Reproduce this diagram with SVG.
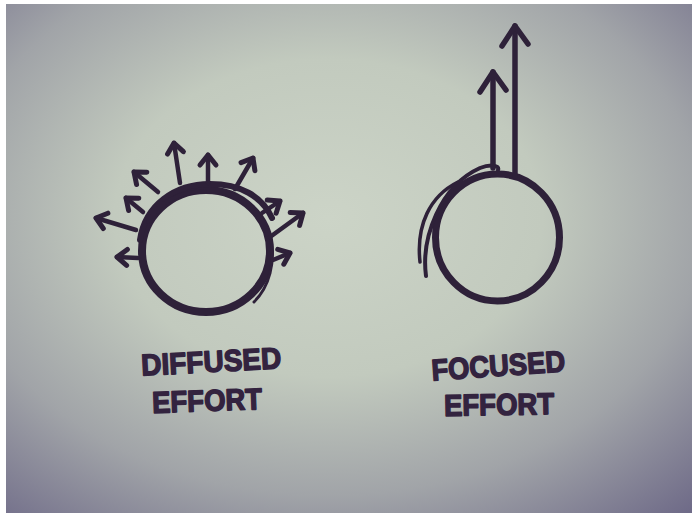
<svg xmlns="http://www.w3.org/2000/svg" width="692" height="516" viewBox="0 0 692 516">
<defs>
<radialGradient id="bg" cx="0.47" cy="0.42" r="0.78">
<stop offset="0" stop-color="#ccd4c7"/>
<stop offset="0.4" stop-color="#c2cabe"/>
<stop offset="0.7" stop-color="#a1a4a8"/>
<stop offset="1" stop-color="#6f6b88"/>
</radialGradient>
<marker id="head" markerUnits="userSpaceOnUse" markerWidth="30" markerHeight="30" refX="0" refY="0" viewBox="-15 -15 30 30" orient="auto" overflow="visible">
<path d="M -10 -8 L 0 0 L -10 8" fill="none" stroke="#2e2139" stroke-width="5" stroke-linecap="round" stroke-linejoin="round"/>
</marker>
<marker id="headBig" markerUnits="userSpaceOnUse" markerWidth="40" markerHeight="40" refX="0" refY="0" viewBox="-20 -20 40 40" orient="auto" overflow="visible">
<path d="M -20 -13 L 0 0 L -18 13" fill="none" stroke="#2e2139" stroke-width="5.5" stroke-linecap="round" stroke-linejoin="round"/>
</marker>
</defs>
<style>
.ink{fill:none;stroke:#2e2139;stroke-linecap:round;stroke-linejoin:round}
.arr{fill:none;stroke:#2e2139;stroke-width:4.5;stroke-linecap:round;marker-end:url(#head)}
.arrB{fill:none;stroke:#2e2139;stroke-width:5.5;stroke-linecap:round;marker-end:url(#headBig)}
.lbl{font-family:"Liberation Sans",Arial,sans-serif;font-weight:bold;font-size:30px;fill:#33233f;stroke:#33233f;stroke-width:1.5;stroke-linejoin:round}
</style>
<rect x="0" y="0" width="692" height="516" fill="#ffffff"/>
<rect x="6" y="4" width="686" height="509" fill="url(#bg)"/>

<g id="diffused">
<ellipse class="ink" cx="206" cy="251" rx="64" ry="61" stroke-width="8"/>
<path class="ink" stroke-width="6" d="M 140 240 C 145 205 175 184 210 184 C 240 184 262 196 272 218"/>
<path class="ink" stroke-width="4" d="M 148 222 C 160 200 180 192 205 191"/>
<path class="ink" stroke-width="3" d="M 271 240 C 275 262 270 286 254 302"/>
</g>

<g id="diffused-arrows">
<path class="arr" d="M 136 230 L 96 218"/>
<path class="arr" d="M 138 258 L 117 257"/>
<path class="arr" d="M 143 212 L 126 198"/>
<path class="arr" d="M 158 192 L 134 172"/>
<path class="arr" d="M 180 183 L 174 143"/>
<path class="arr" d="M 208 183 L 208 155"/>
<path class="arr" d="M 235 189 L 253 158"/>
<path class="arr" d="M 262 213 L 280 201"/>
<path class="arr" d="M 270 237 L 303 213"/>
<path class="arr" d="M 273 260 L 290 253"/>
</g>

<g id="focused">
<ellipse class="ink" cx="497.5" cy="237.5" rx="62" ry="63.5" stroke-width="7"/>
<path class="ink" stroke-width="3.5" d="M 420 262 C 416 225 430 196 458 182"/>
<path class="ink" stroke-width="4" d="M 426 276 C 421 238 440 186 480 168 C 490 164 500 165 498 170"/>
</g>

<g id="focused-arrows">
<path class="arrB" d="M 493 168 L 493 72"/>
<path class="arrB" d="M 515 176 L 515 26"/>
</g>

<g id="labels">
<text class="lbl" x="141" y="372" textLength="140" lengthAdjust="spacingAndGlyphs" transform="rotate(-3 210 358)">DIFFUSED</text>
<text class="lbl" x="152" y="411" textLength="110" lengthAdjust="spacingAndGlyphs" transform="rotate(-2 207 398)">EFFORT</text>
<text class="lbl" x="431" y="376" textLength="134" lengthAdjust="spacingAndGlyphs" transform="rotate(-4 498 362)">FOCUSED</text>
<text class="lbl" x="444" y="415" textLength="110" lengthAdjust="spacingAndGlyphs" transform="rotate(-1 498 402)">EFFORT</text>
</g>
</svg>
